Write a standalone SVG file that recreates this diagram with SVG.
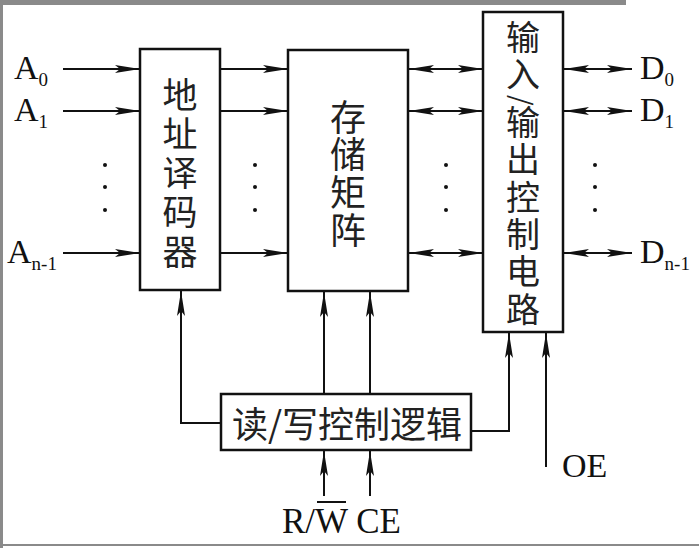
<svg xmlns="http://www.w3.org/2000/svg" width="699" height="548" viewBox="0 0 699 548">
<style>
.box{fill:none;stroke:#111;stroke-width:2.5}
.ln{fill:none;stroke:#111;stroke-width:2}
.arr{marker-end:url(#ah)}
.bi{marker-end:url(#ah);marker-start:url(#ah)}
.lat{font-family:"Liberation Serif","Times New Roman",serif;fill:#111}
.cjk{font-family:"Noto Sans CJK SC","Noto Sans",sans-serif;fill:#222;text-anchor:middle;dominant-baseline:central}
.vt{font-family:"Noto Sans CJK SC","Noto Sans",sans-serif;fill:#222;writing-mode:vertical-rl;text-anchor:start}
.dot{fill:#111}
</style>
<defs>
<marker id="ah" markerUnits="userSpaceOnUse" markerWidth="26" markerHeight="10" refX="25" refY="4.5" orient="auto-start-reverse">
<path d="M0,0.5 L25,4.5 L0,8.5 L5,4.5 z" fill="#111"/>
</marker>
</defs>
<rect width="699" height="548" fill="#fff"/>
<rect x="0" y="0" width="626" height="5" fill="#8a8a8a"/>
<rect x="0" y="0" width="3" height="548" fill="#8a8a8a"/>
<rect x="0" y="544" width="699" height="2" fill="#8a8a8a"/>

<g id="decoder">
<rect class="box" x="140" y="49" width="80" height="241"/>
<text class="vt" font-size="35" letter-spacing="4.2" x="180" y="77">地址译码器</text>
</g>
<g id="matrix">
<rect class="box" x="288" y="50" width="120" height="241"/>
<text class="vt" font-size="36" letter-spacing="1.8" x="348" y="99">存储矩阵</text>
</g>
<g id="io">
<rect class="box" x="483" y="12" width="80" height="320"/>
<text class="vt" font-size="34" letter-spacing="3.3" x="523" y="20">输入<tspan font-size="27" letter-spacing="0">/</tspan>输出控制电路</text>
</g>
<g id="ctrl">
<rect class="box" x="221" y="394" width="250" height="56"/>
<text class="cjk" font-size="36" x="347" y="422">读/写控制逻辑</text>
</g>

<g id="connectors">
<line class="ln arr" x1="63" y1="69" x2="140" y2="69"/>
<line class="ln arr" x1="63" y1="111" x2="140" y2="111"/>
<line class="ln arr" x1="63" y1="253" x2="140" y2="253"/>
<line class="ln arr" x1="220" y1="69" x2="288" y2="69"/>
<line class="ln arr" x1="220" y1="111" x2="288" y2="111"/>
<line class="ln arr" x1="220" y1="253" x2="288" y2="253"/>
<line class="ln bi" x1="409" y1="69" x2="483" y2="69"/>
<line class="ln bi" x1="409" y1="111" x2="483" y2="111"/>
<line class="ln bi" x1="409" y1="253" x2="483" y2="253"/>
<line class="ln bi" x1="564" y1="69" x2="632" y2="69"/>
<line class="ln bi" x1="564" y1="111" x2="632" y2="111"/>
<line class="ln bi" x1="564" y1="253" x2="632" y2="253"/>
<polyline class="ln arr" points="221,423 181,423 181,291"/>
<line class="ln arr" x1="324" y1="394" x2="324" y2="292"/>
<line class="ln arr" x1="370" y1="394" x2="370" y2="292"/>
<polyline class="ln arr" points="471,431 509,431 509,333"/>
<line class="ln arr" x1="546" y1="467" x2="546" y2="333"/>
<line class="ln arr" x1="324" y1="496" x2="324" y2="451"/>
<line class="ln arr" x1="370" y1="496" x2="370" y2="451"/>
</g>

<g id="dots">
<circle class="dot" cx="105" cy="165" r="2"/><circle class="dot" cx="105" cy="187" r="2"/><circle class="dot" cx="105" cy="210" r="2"/>
<circle class="dot" cx="255" cy="165" r="2"/><circle class="dot" cx="255" cy="187" r="2"/><circle class="dot" cx="255" cy="210" r="2"/>
<circle class="dot" cx="446" cy="165" r="2"/><circle class="dot" cx="446" cy="187" r="2"/><circle class="dot" cx="446" cy="210" r="2"/>
<circle class="dot" cx="595" cy="165" r="2"/><circle class="dot" cx="595" cy="187" r="2"/><circle class="dot" cx="595" cy="210" r="2"/>
</g>

<g id="labels">
<text class="lat" font-size="34" x="14" y="79">A<tspan font-size="19" dy="7">0</tspan></text>
<text class="lat" font-size="34" x="14" y="121">A<tspan font-size="19" dy="7">1</tspan></text>
<text class="lat" font-size="34" x="7" y="263">A<tspan font-size="19" dy="7">n-1</tspan></text>
<text class="lat" font-size="34" x="640" y="79">D<tspan font-size="19" dy="7">0</tspan></text>
<text class="lat" font-size="34" x="640" y="121">D<tspan font-size="19" dy="7">1</tspan></text>
<text class="lat" font-size="34" x="640" y="263">D<tspan font-size="19" dy="7">n-1</tspan></text>
<text class="lat" font-size="34" x="562" y="477">OE</text>
<text class="lat" font-size="35" x="282" y="533">R/W CE</text>
<line class="ln" x1="317" y1="502" x2="346" y2="502"/>
</g>
</svg>
